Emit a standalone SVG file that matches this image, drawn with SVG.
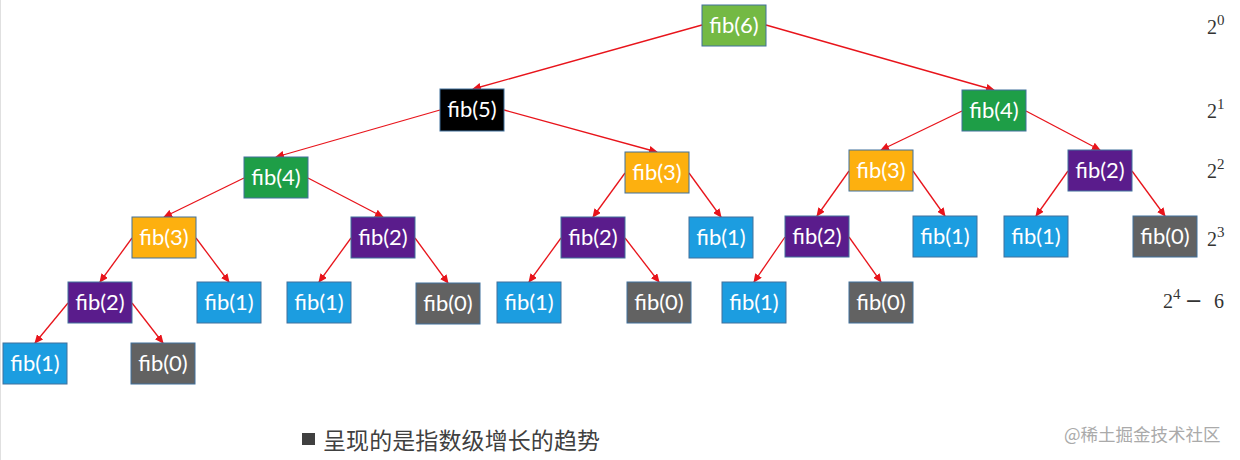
<svg xmlns="http://www.w3.org/2000/svg" width="1240" height="460" viewBox="0 0 1240 460">
<style>
.n rect{stroke:#41719C;stroke-width:1}
.n text{font-family:Lato,"Open Sans",sans-serif;font-size:22px;fill:#fff;text-anchor:middle}
.g6{fill:#74B944}.g4{fill:#1E9E47}.bk{fill:#000}.ye{fill:#FDB00F}.pu{fill:#5A1C8C}.bl{fill:#1C9DE0}.gr{fill:#626262}
#edges line{stroke:#E8141B;stroke-width:1.3;marker-end:url(#ah)}
.lv{font-family:"Liberation Serif","DejaVu Serif",serif;font-size:20px;fill:#333}
.lv tspan.s{font-size:15px}
.lv tspan.m{font-family:"DejaVu Sans",sans-serif;font-size:21px}
</style>
<defs>
<marker id="ah" markerWidth="9" markerHeight="8" refX="8" refY="4" orient="auto" markerUnits="userSpaceOnUse">
<path d="M0,0 L9,4 L0,8 Z" fill="#E8141B"/>
</marker>
</defs>
<rect x="0" y="0" width="1240" height="460" fill="#fff"/>
<line x1="0.5" y1="0" x2="0.5" y2="460" stroke="#e0e0e0"/>
<g id="edges">
<line x1="702" y1="25" x2="473" y2="89"/>
<line x1="766" y1="25" x2="994" y2="90"/>
<line x1="440" y1="110" x2="276" y2="157"/>
<line x1="504" y1="110" x2="657" y2="152"/>
<line x1="962" y1="111" x2="881" y2="150"/>
<line x1="1026" y1="111" x2="1100" y2="150"/>
<line x1="244" y1="178" x2="164" y2="217"/>
<line x1="308" y1="178" x2="383" y2="217"/>
<line x1="625" y1="173" x2="593" y2="217"/>
<line x1="689" y1="173" x2="721" y2="217"/>
<line x1="849" y1="171" x2="817" y2="216"/>
<line x1="913" y1="171" x2="945" y2="216"/>
<line x1="1068" y1="171" x2="1036" y2="216"/>
<line x1="1132" y1="171" x2="1165" y2="216"/>
<line x1="132" y1="238" x2="100" y2="282"/>
<line x1="196" y1="238" x2="229" y2="282"/>
<line x1="351" y1="238" x2="319" y2="282"/>
<line x1="415" y1="238" x2="448" y2="283"/>
<line x1="561" y1="238" x2="529" y2="282"/>
<line x1="625" y1="238" x2="659" y2="282"/>
<line x1="785" y1="237" x2="754" y2="282"/>
<line x1="849" y1="237" x2="881" y2="282"/>
<line x1="68" y1="303" x2="35" y2="343"/>
<line x1="132" y1="303" x2="163" y2="343"/>
</g>
<g id="n0" class="n"><rect class="g6" x="702" y="5" width="64" height="41"/><text x="734" y="33">fib(6)</text></g>
<g id="n1" class="n"><rect class="bk" x="440" y="89" width="64" height="42"/><text x="472" y="117">fib(5)</text></g>
<g id="n2" class="n"><rect class="g4" x="962" y="90" width="64" height="41"/><text x="994" y="118">fib(4)</text></g>
<g id="n3" class="n"><rect class="g4" x="244" y="157" width="64" height="41"/><text x="276" y="185">fib(4)</text></g>
<g id="n4" class="n"><rect class="ye" x="625" y="152" width="64" height="41"/><text x="657" y="180">fib(3)</text></g>
<g id="n5" class="n"><rect class="ye" x="849" y="150" width="64" height="41"/><text x="881" y="178">fib(3)</text></g>
<g id="n6" class="n"><rect class="pu" x="1068" y="150" width="64" height="41"/><text x="1100" y="178">fib(2)</text></g>
<g id="n7" class="n"><rect class="ye" x="132" y="217" width="64" height="41"/><text x="164" y="245">fib(3)</text></g>
<g id="n8" class="n"><rect class="pu" x="351" y="217" width="64" height="41"/><text x="383" y="245">fib(2)</text></g>
<g id="n9" class="n"><rect class="pu" x="561" y="217" width="64" height="41"/><text x="593" y="245">fib(2)</text></g>
<g id="n10" class="n"><rect class="bl" x="689" y="217" width="64" height="41"/><text x="721" y="245">fib(1)</text></g>
<g id="n11" class="n"><rect class="pu" x="785" y="216" width="64" height="41"/><text x="817" y="244">fib(2)</text></g>
<g id="n12" class="n"><rect class="bl" x="913" y="216" width="64" height="41"/><text x="945" y="244">fib(1)</text></g>
<g id="n13" class="n"><rect class="bl" x="1004" y="216" width="64" height="41"/><text x="1036" y="244">fib(1)</text></g>
<g id="n14" class="n"><rect class="gr" x="1133" y="216" width="64" height="41"/><text x="1165" y="244">fib(0)</text></g>
<g id="n15" class="n"><rect class="pu" x="68" y="282" width="64" height="41"/><text x="100" y="310">fib(2)</text></g>
<g id="n16" class="n"><rect class="bl" x="197" y="282" width="64" height="41"/><text x="229" y="310">fib(1)</text></g>
<g id="n17" class="n"><rect class="bl" x="287" y="282" width="64" height="41"/><text x="319" y="310">fib(1)</text></g>
<g id="n18" class="n"><rect class="gr" x="416" y="283" width="64" height="41"/><text x="448" y="311">fib(0)</text></g>
<g id="n19" class="n"><rect class="bl" x="497" y="282" width="64" height="41"/><text x="529" y="310">fib(1)</text></g>
<g id="n20" class="n"><rect class="gr" x="627" y="282" width="64" height="41"/><text x="659" y="310">fib(0)</text></g>
<g id="n21" class="n"><rect class="bl" x="722" y="282" width="64" height="41"/><text x="754" y="310">fib(1)</text></g>
<g id="n22" class="n"><rect class="gr" x="849" y="282" width="64" height="41"/><text x="881" y="310">fib(0)</text></g>
<g id="n23" class="n"><rect class="bl" x="3" y="343" width="64" height="41"/><text x="35" y="371">fib(1)</text></g>
<g id="n24" class="n"><rect class="gr" x="131" y="343" width="64" height="41"/><text x="163" y="371">fib(0)</text></g>
<g id="levels">
<text class="lv" x="1207" y="34">2<tspan class="s" dy="-9">0</tspan></text>
<text class="lv" x="1207" y="118">2<tspan class="s" dy="-9">1</tspan></text>
<text class="lv" x="1207" y="178">2<tspan class="s" dy="-9">2</tspan></text>
<text class="lv" x="1207" y="246">2<tspan class="s" dy="-9">3</tspan></text>
<text class="lv" x="1163" y="308">2<tspan class="s" dy="-9">4</tspan><tspan class="m" dy="9" x="1185">−</tspan><tspan x="1214">6</tspan></text>
</g>
<g id="caption">
<rect x="302" y="433" width="13" height="12" fill="#404040"/>
<text x="323" y="449" font-family="'Noto Sans CJK SC',sans-serif" font-size="23" fill="#404040" textLength="277">呈现的是指数级增长的趋势</text>
<text x="1064" y="441" font-family="'Noto Sans CJK SC',sans-serif" font-size="17.5" fill="#aaa">@稀土掘金技术社区</text>
</g>
</svg>
